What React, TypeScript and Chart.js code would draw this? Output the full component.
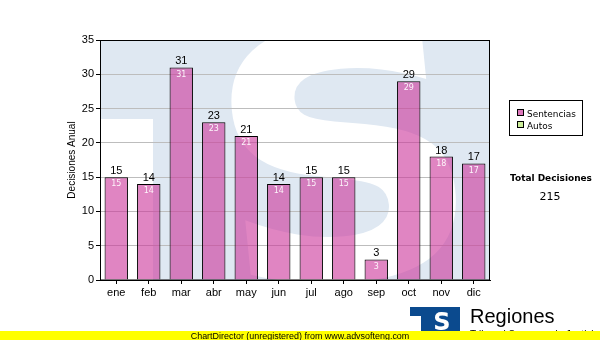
import React, { useEffect, useRef } from "react";
import { Chart, registerables } from "chart.js";

Chart.register(...registerables);

const months = ["ene", "feb", "mar", "abr", "may", "jun", "jul", "ago", "sep", "oct", "nov", "dic"];
const sentencias = [15, 14, 31, 23, 21, 14, 15, 15, 3, 29, 18, 17];
const legendLabels = ["Sentencias", "Autos"];
const legendColors = ["#dd77bb", "#ccee99"];
const yMin = 0;
const yMax = 35;
const yStep = 5;
const yTitle = "Decisiones Anual";
const totalLabel = "Total Decisiones";
const footerText = "ChartDirector (unregistered) from www.advsofteng.com";
const logoTitle = "Regiones";
const logoSub = "Tribunal Supremo de Justicia";

const SANS = "'Liberation Sans', Arial, sans-serif";
const VERD = "'DejaVu Sans', Verdana, sans-serif";

function fitFont(ctx: CanvasRenderingContext2D, text: string, family: string, weight: string, targetW: number) {
  ctx.font = `${weight} 100px ${family}`;
  const w = ctx.measureText(text).width;
  return `${weight} ${(100 * targetW) / w}px ${family}`;
}

const decorPlugin = {
  id: "decor",
  beforeDraw(chart: any) {
    const ctx: CanvasRenderingContext2D = chart.ctx;
    const a = chart.chartArea;
    ctx.save();
    ctx.fillStyle = "#ffffff";
    ctx.fillRect(0, 0, chart.width, chart.height);
    ctx.beginPath();
    ctx.rect(a.left, a.top, a.right - a.left, a.bottom - a.top);
    ctx.clip();
    ctx.fillStyle = "#dfe8f2";
    ctx.fillRect(a.left, a.top, a.right - a.left, a.bottom - a.top);
    // watermark
    ctx.fillStyle = "#ffffff";
    ctx.fillRect(a.left - 20, a.top + 79, 73, 300);
    const size = 345;
    ctx.translate(a.left + 244, a.top + 112);
    ctx.rotate(-0.1);
    ctx.scale(1.08, 1);
    ctx.font = `bold ${size}px ${VERD}`;
    ctx.textAlign = "center";
    ctx.textBaseline = "alphabetic";
    ctx.fillText("S", 0, size * 0.365);
    ctx.restore();
  },
  afterDatasetsDraw(chart: any) {
    const ctx: CanvasRenderingContext2D = chart.ctx;
    const meta = chart.getDatasetMeta(0);
    const data = chart.data.datasets[0].data;
    ctx.save();
    ctx.textAlign = "center";
    meta.data.forEach((bar: any, i: number) => {
      ctx.fillStyle = "#000000";
      ctx.font = `11px ${SANS}`;
      ctx.textBaseline = "alphabetic";
      ctx.fillText(String(data[i]), bar.x, bar.y - 3);
      ctx.fillStyle = "rgba(255,255,255,0.92)";
      ctx.font = `8px ${VERD}`;
      ctx.textBaseline = "top";
      ctx.fillText(String(data[i]), bar.x, bar.y + 3);
    });
    ctx.restore();
  },
  afterDraw(chart: any) {
    const ctx: CanvasRenderingContext2D = chart.ctx;
    const a = chart.chartArea;
    ctx.save();
    // frame
    ctx.strokeStyle = "#000000";
    ctx.lineWidth = 1;
    ctx.strokeRect(a.left + 0.5, a.top + 0.5, a.right - a.left - 1, a.bottom - a.top - 0.5);

    // y title
    ctx.save();
    ctx.translate(75, (a.top + a.bottom) / 2);
    ctx.rotate(-Math.PI / 2);
    ctx.fillStyle = "#000";
    ctx.font = `10px ${SANS}`;
    ctx.textAlign = "center";
    ctx.textBaseline = "alphabetic";
    ctx.fillText(yTitle, 0, 0);
    ctx.restore();

    // legend
    ctx.fillStyle = "#ffffff";
    ctx.fillRect(509.5, 100.5, 73, 35);
    ctx.strokeRect(509.5, 100.5, 73, 35);
    legendLabels.forEach((lab, i) => {
      const y = 109 + i * 12;
      ctx.fillStyle = legendColors[i];
      ctx.fillRect(517.5, y + 0.5, 6, 6);
      ctx.strokeStyle = "#000";
      ctx.strokeRect(517.5, y + 0.5, 6, 6);
      ctx.fillStyle = "#000";
      ctx.font = fitFont(ctx, legendLabels[0], VERD, "normal", 49);
      ctx.textAlign = "left";
      ctx.textBaseline = "alphabetic";
      ctx.fillText(lab, 527, y + 7.5);
    });

    // total
    const total = sentencias.reduce((s, v) => s + v, 0);
    ctx.textAlign = "center";
    ctx.font = fitFont(ctx, totalLabel, VERD, "bold", 82);
    ctx.fillText(totalLabel, 551, 181);
    ctx.font = `11px ${VERD}`;
    ctx.fillText(String(total), 550, 199.5);

    // logo
    ctx.fillStyle = "#0b4a8e";
    ctx.fillRect(410, 307, 14, 9);
    ctx.fillRect(421, 307, 39, 26);
    ctx.fillStyle = "#ffffff";
    ctx.font = `bold 24px ${VERD}`;
    ctx.textAlign = "center";
    ctx.fillText("S", 442, 330);
    ctx.fillStyle = "#000";
    ctx.textAlign = "left";
    ctx.font = `20px ${SANS}`;
    ctx.fillText(logoTitle, 470, 323);
    ctx.font = `10px ${SANS}`;
    ctx.fillText(logoSub, 470, 338);

    // footer
    ctx.fillStyle = "#ffff00";
    ctx.fillRect(0, 331, chart.width, 9);
    ctx.fillStyle = "#000";
    ctx.textAlign = "center";
    ctx.font = fitFont(ctx, footerText, SANS, "normal", 219);
    ctx.fillText(footerText, 300, 339);
    ctx.restore();
  },
};

export default function App() {
  const ref = useRef<HTMLCanvasElement | null>(null);
  useEffect(() => {
    if (!ref.current) return;
    const chart = new Chart(ref.current, {
      type: "bar",
      data: {
        labels: months,
        datasets: [
          {
            label: legendLabels[0],
            data: sentencias,
            backgroundColor: "rgba(204,51,153,0.6)",
            borderColor: "#000000",
            borderWidth: 1,
            barPercentage: 0.72,
            categoryPercentage: 1,
          },
        ],
      },
      options: {
        responsive: false,
        animation: false,
        layout: { padding: { left: 0, top: 40, right: 110, bottom: 0 } },
        plugins: { legend: { display: false }, tooltip: { enabled: false }, title: { display: false } },
        scales: {
          x: {
            afterFit: (s: any) => {
              s.height = 60;
            },
            grid: { offset: false, drawOnChartArea: false, tickLength: 4, tickColor: "#000", color: "#000" },
            border: { color: "#000", width: 1 },
            ticks: { color: "#000", font: { family: SANS, size: 11 }, padding: 2, maxRotation: 0 },
          },
          y: {
            min: yMin,
            max: yMax,
            afterFit: (s: any) => {
              s.width = 100;
            },
            grid: { color: "#bdbdbd", tickLength: 4, tickColor: "#000" },
            border: { color: "#000", width: 1 },
            ticks: { stepSize: yStep, color: "#000", font: { family: SANS, size: 11 }, padding: 2 },
          },
        },
      },
      plugins: [decorPlugin],
    });
    return () => chart.destroy();
  }, []);
  return (
    <div style={{ position: "absolute", left: 0, top: 0, width: 600, height: 340 }}>
      <canvas ref={ref} width={600} height={340} style={{ display: "block" }} />
    </div>
  );
}
